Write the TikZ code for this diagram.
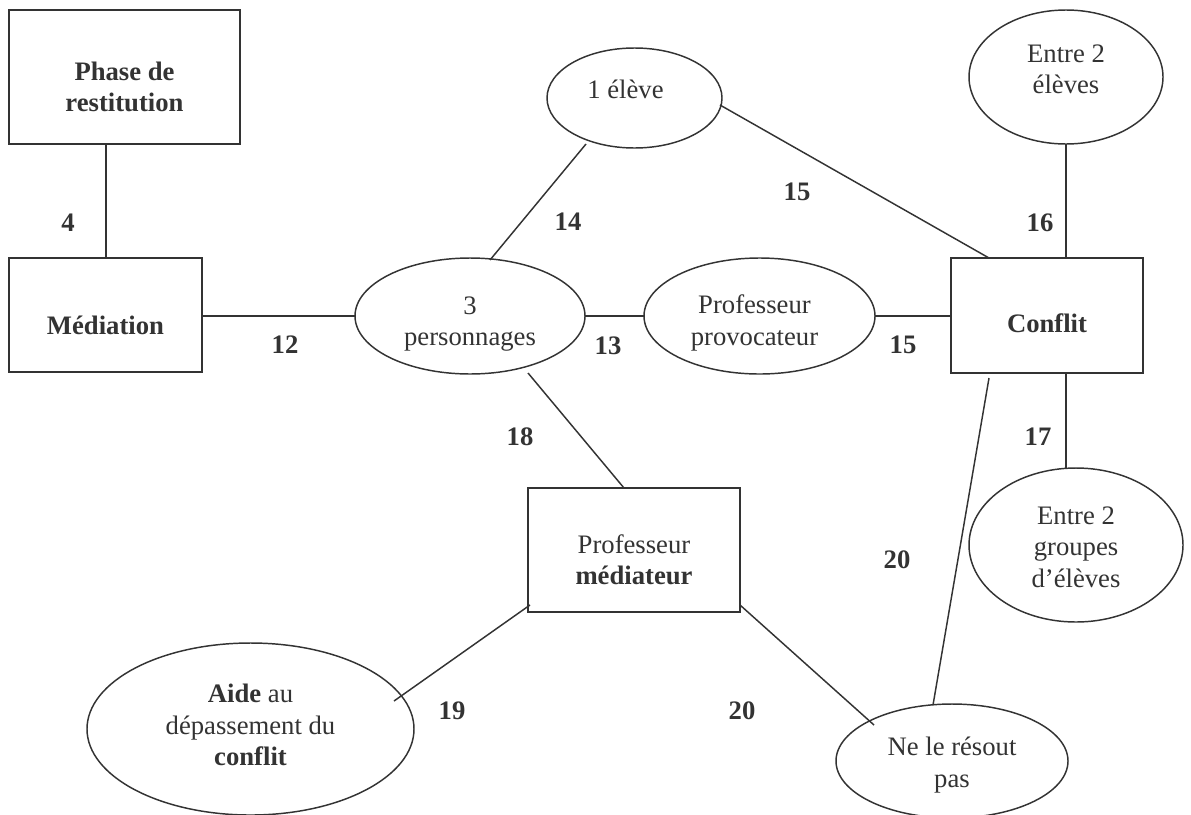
\documentclass[tikz,border=0pt]{standalone}
\usepackage{fontspec}
\setmainfont{Liberation Serif}
\usetikzlibrary{shapes.geometric,calc}
\definecolor{ink}{HTML}{333333}
\begin{document}
\begin{tikzpicture}[x=0.75pt,y=-0.75pt,
  every node/.style={text=ink, font=\fontsize{20}{23.5}\selectfont},
  sz/.style 2 args={minimum width=#1*0.75pt, minimum height=#2*0.75pt},
  box/.style={draw=ink, line width=1.1pt, rectangle, inner sep=0pt},
  oval/.style={draw=ink, line width=1.1pt, ellipse, inner sep=0pt},
  txt/.style={align=center, inner sep=0pt},
  link/.style={draw=ink, line width=1.1pt},
  num/.style={font=\fontsize{20}{23.5}\selectfont\bfseries, inner sep=0pt}]
\useasboundingbox[fill=white] (0,0) rectangle (1191,814);

% shapes
\node[box,sz={231}{134}] (phase) at (124.5,77) {};
\node[box,sz={193}{114}] (med) at (105.5,315) {};
\node[oval,sz={230}{116}] (trois) at (470,316) {};
\node[oval,sz={175}{100}] (un) at (634.5,98) {};
\node[oval,sz={231}{116}] (provo) at (759.5,316) {};
\node[box,sz={192}{115}] (conflit) at (1047,315.5) {};
\node[oval,sz={194}{134}] (e2e) at (1066,77) {};
\node[oval,sz={214}{154}] (e2g) at (1076,545) {};
\node[box,sz={212}{124}] (pm) at (634,550) {};
\node[oval,sz={327}{172}] (aide) at (250.5,729) {};
\node[oval,sz={232}{114}] (ne) at (952,761) {};

% texts
\node[txt] (phase-t) at ($(phase.center)+(0,10)$) {\textbf{Phase de}\\\textbf{restitution}};
\node[txt] (med-t) at ($(med.center)+(0,10)$) {\textbf{Médiation}};
\node[txt] (trois-t) at ($(trois.center)+(0,8)$) {3\\personnages};
\node[txt] (un-t) at ($(un.center)+(-9,-9)$) {1 élève};
\node[txt] (provo-t) at ($(provo.center)+(-5,7)$) {Professeur\\provocateur};
\node[txt] (conflit-t) at ($(conflit.center)+(0,8)$) {\textbf{Conflit}};
\node[txt] (e2e-t) at ($(e2e.center)+(0,-8)$) {Entre 2\\élèves};
\node[txt] (e2g-t) at ($(e2g.center)+(0,2)$) {Entre 2\\groupes\\d’élèves};
\node[txt] (pm-t) at ($(pm.center)+(0,10)$) {Professeur\\\textbf{médiateur}};
\node[txt] (aide-t) at ($(aide.center)+(0,-4)$) {\textbf{Aide} au\\dépassement du\\\textbf{conflit}};
\node[txt] (ne-t) at ($(ne.center)+(0,4)$) {Ne le résout\\pas};

% connectors
\draw[link] ($(phase.center)+(-18.5,67)$) -- ($(med.center)+(0.5,-57)$);
\draw[link] ($(med.center)+(96.5,1)$) -- ($(trois.center)+(-115,0)$);
\draw[link] ($(trois.center)+(20,-56)$) -- ($(un.center)+(-48.5,46)$);
\draw[link] ($(un.center)+(85.5,7)$) -- ($(conflit.center)+(-58,-57.5)$);
\draw[link] ($(trois.center)+(115,0)$) -- ($(provo.center)+(-115.5,0)$);
\draw[link] ($(provo.center)+(115.5,0)$) -- ($(conflit.center)+(-96,0.5)$);
\draw[link] ($(e2e.center)+(0,67)$) -- ($(conflit.center)+(19,-57.5)$);
\draw[link] ($(conflit.center)+(19,57.5)$) -- ($(e2g.center)+(-10,-77)$);
\draw[link] ($(trois.center)+(58,57)$) -- ($(pm.center)+(-10,-62)$);
\draw[link] ($(pm.center)+(-104,55)$) -- ($(aide.center)+(143.5,-28)$);
\draw[link] ($(pm.center)+(106,55)$) -- ($(ne.center)+(-78,-36)$);
\draw[link] ($(conflit.center)+(-58,62.5)$) -- ($(ne.center)+(-19,-56)$);

% numbers
\node[num] (n4) at (68,223) {4};
\node[num] (n12) at (285,345) {12};
\node[num] (n14) at (568,222) {14};
\node[num] (n15a) at (797,192) {15};
\node[num] (n16) at (1040,223) {16};
\node[num] (n13) at (608,346) {13};
\node[num] (n15b) at (903,345) {15};
\node[num] (n17) at (1038,437) {17};
\node[num] (n18) at (520,437) {18};
\node[num] (n20a) at (897,560) {20};
\node[num] (n19) at (452,711) {19};
\node[num] (n20b) at (742,711) {20};
\end{tikzpicture}
\end{document}
